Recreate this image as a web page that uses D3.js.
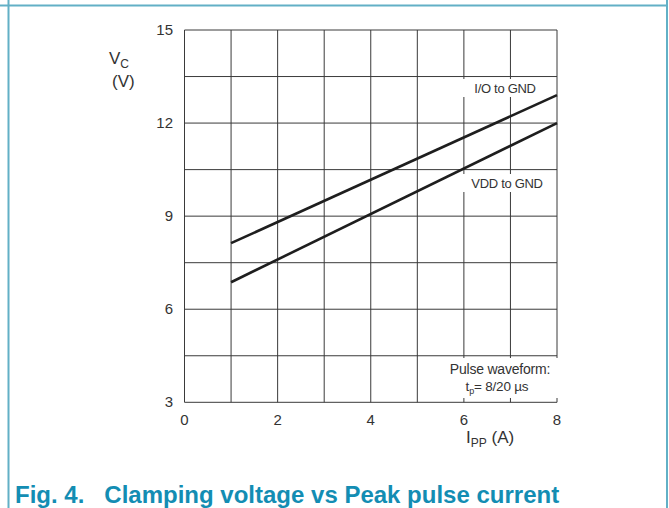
<!DOCTYPE html>
<html>
<head>
<meta charset="utf-8">
<script src="https://cdn.jsdelivr.net/npm/d3@7"></script>
<style>
  body { margin: 0; background: #fff; }
  svg { display: block; font-family: "Liberation Sans", Arial, sans-serif; }
</style>
</head>
<body>
<div id="chart"></div>
<script>
// data
const xTicks = [0, 2, 4, 6, 8];
const yTicks = [3, 6, 9, 12, 15];
const ioCurrent = [1, 8];
const ioVoltage = [8.13, 12.9];
const vddCurrent = [1, 8];
const vddVoltage = [6.87, 12.0];

const width = 669, height = 508;
const svg = d3.select("#chart").append("svg")
    .attr("width", width)
    .attr("height", height);

// frame round the figure
const frame = "#62b0c6";
svg.append("line").attr("x1", 0).attr("x2", 668).attr("y1", 5.5).attr("y2", 5.5)
    .attr("stroke", frame).attr("stroke-width", 2);
svg.append("line").attr("x1", 8.5).attr("x2", 8.5).attr("y1", 0).attr("y2", height)
    .attr("stroke", frame).attr("stroke-width", 2);
svg.append("line").attr("x1", 667).attr("x2", 667).attr("y1", 0).attr("y2", height)
    .attr("stroke", frame).attr("stroke-width", 2);

const x = d3.scaleLinear().domain([0, 8]).range([184.5, 557]);
const y = d3.scaleLinear().domain([3, 15]).range([402.3, 30]);

// grid: every 1 A and every 1.5 V
const g = svg.append("g");
g.selectAll(".vg").data(d3.range(0, 9, 1)).enter().append("line")
    .attr("x1", d => x(d)).attr("x2", d => x(d))
    .attr("y1", y(15)).attr("y2", y(3))
    .attr("stroke", "#3a3a3a").attr("stroke-width", 1);
g.selectAll(".hg").data(d3.range(3, 15.1, 1.5)).enter().append("line")
    .attr("x1", x(0)).attr("x2", x(8))
    .attr("y1", d => y(d)).attr("y2", d => y(d))
    .attr("stroke", "#3a3a3a").attr("stroke-width", 1);

// tick labels
svg.selectAll(".yt").data(yTicks).enter().append("text")
    .attr("x", 173).attr("y", d => y(d) + 5)
    .attr("text-anchor", "end").attr("font-size", 15).attr("fill", "#333")
    .text(d => d);
svg.selectAll(".xt").data(xTicks).enter().append("text")
    .attr("x", d => x(d)).attr("y", 425)
    .attr("text-anchor", "middle").attr("font-size", 15).attr("fill", "#333")
    .text(d => d);

// axis titles
const yl = svg.append("text").attr("x", 109).attr("y", 64).attr("font-size", 17).attr("fill", "#333");
yl.append("tspan").text("V");
yl.append("tspan").attr("font-size", 12).attr("dy", 4).text("C");
svg.append("text").attr("x", 112).attr("y", 87).attr("font-size", 17).attr("fill", "#333").text("(V)");

const xl = svg.append("text").attr("x", 466).attr("y", 443).attr("font-size", 17).attr("fill", "#333");
xl.append("tspan").text("I");
xl.append("tspan").attr("font-size", 12).attr("dy", 4).text("PP");
xl.append("tspan").attr("dy", -4).text(" (A)");

// white boxes behind labels
function box(cx, cy, w, h) {
    svg.append("rect").attr("x", cx - w / 2).attr("y", cy - h / 2)
        .attr("width", w).attr("height", h).attr("fill", "#fff");
}
box(505, 88, 84, 18);
box(507, 183, 88, 18);
box(500, 378, 118, 40);

// data lines
const line = d3.line().x(d => x(d[0])).y(d => y(d[1]));
const series = [d3.zip(ioCurrent, ioVoltage), d3.zip(vddCurrent, vddVoltage)];
svg.selectAll(".series").data(series).enter().append("path")
    .attr("d", line)
    .attr("fill", "none").attr("stroke", "#1e1e1e").attr("stroke-width", 2.6);

svg.append("text").attr("x", 505).attr("y", 93).attr("text-anchor", "middle")
    .attr("font-size", 13).attr("fill", "#333").attr("letter-spacing", -0.3).text("I/O to GND");
svg.append("text").attr("x", 507).attr("y", 188).attr("text-anchor", "middle")
    .attr("font-size", 13).attr("fill", "#333").attr("letter-spacing", -0.3).text("VDD to GND");
svg.append("text").attr("x", 500).attr("y", 374).attr("text-anchor", "middle")
    .attr("font-size", 14).attr("fill", "#333").attr("letter-spacing", -0.2).text("Pulse waveform:");
const tp = svg.append("text").attr("x", 497).attr("y", 391).attr("text-anchor", "middle")
    .attr("font-size", 13.5).attr("fill", "#333").attr("letter-spacing", -0.2);
tp.append("tspan").text("t");
tp.append("tspan").attr("font-size", 9).attr("dy", 3).text("p");
tp.append("tspan").attr("dy", -3).text("= 8/20 µs");

// caption
svg.append("text").attr("x", 15).attr("y", 503)
    .attr("font-size", 24).attr("font-weight", "bold").attr("fill", "#138db3")
    .attr("xml:space", "preserve")
    .text("Fig. 4.   Clamping voltage vs Peak pulse current");
</script>
</body>
</html>
